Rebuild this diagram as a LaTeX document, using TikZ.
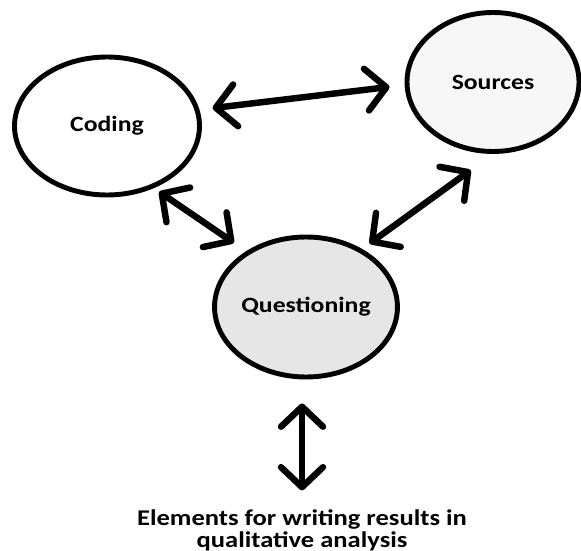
\documentclass[tikz,border=0pt]{standalone}
\usepackage{fontspec}
\setmainfont{Carlito}[FakeStretch=1.18]
\usepackage{tikz}
\usetikzlibrary{positioning, arrows.meta, shapes.geometric}

\definecolor{srcfill}{HTML}{F7F7F7}
\definecolor{qfill}{HTML}{E6E6E6}

\begin{document}
\begin{tikzpicture}[elem/.style={draw, ellipse, line width=3.5pt, inner sep=0pt, font=\bfseries\fontsize{15.5}{17}\selectfont},
		barb/.tip={Straight Barb[length=5mm, width=10.5mm, round]},
		link/.style={line width=4.6pt, barb-barb}]
		\useasboundingbox (0,0) rectangle (14.525,-13.775);

		\node[elem, fill=qfill, minimum width=4.55cm, minimum height=3.5cm] (quest) at (7.65,-7.675) {Questioning};
		\node[elem, fill=white, minimum width=4.625cm, minimum height=3.45cm, on grid, above left = 4.525 and 4.975 of quest] (coding) {Coding};
		\node[elem, fill=srcfill, minimum width=4.3cm, minimum height=3.475cm, on grid, above right = 5.625 and 4.675 of quest] (sources) {Sources};
		\node[align=center, font=\bfseries\fontsize{16}{15.6}\selectfont, on grid, below left = 5.575 and 0.1 of quest] (result) {Elements for writing results in\\qualitative analysis};

		\draw[link, shorten <=0.33cm, shorten >=0.38cm] (coding.10.4) -- (sources.182.9);
		\draw[link, shorten <=0.16cm, shorten >=0.37cm] (coding.-53.4) -- (quest.137.8);
		\draw[link, shorten <=0.69cm, shorten >=0.23cm] (sources.south) -- (quest.46.5);
		\draw[link, shorten <=0.6cm, shorten >=0.35cm] (quest.south -| result.north) -- (result.north);
\end{tikzpicture}
\end{document}
